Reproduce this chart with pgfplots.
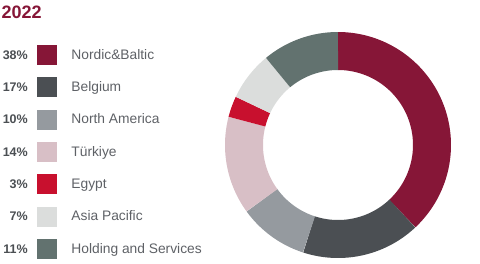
\documentclass[border=0pt]{standalone}
\usepackage{fontspec}
\setmainfont{Liberation Sans}
\usepackage{pgfplots}
\pgfplotsset{compat=1.18}
\definecolor{nordic}{HTML}{861637}
\definecolor{belgium}{HTML}{4B4F53}
\definecolor{northam}{HTML}{959A9F}
\definecolor{turkiye}{HTML}{D8BFC6}
\definecolor{egypt}{HTML}{C8102E}
\definecolor{asia}{HTML}{DBDDDC}
\definecolor{holding}{HTML}{62726F}
\definecolor{pctgray}{HTML}{4B4F53}
\definecolor{labgray}{HTML}{5E6166}
% donut slice: colour, cumulative start %, cumulative end %
\newcommand{\slice}[3]{%
  \addplot[forget plot, draw=#1, line width=38pt, line cap=butt, line join=round,
    domain={90-3.6*#3}:{90-3.6*#2}, samples=90, smooth]
    ({338+94*cos(x)},{-145+94*sin(x)});}
\pgfplotsset{swatch/.style={legend image code/.code={%
  \fill[#1, draw=none] (0pt,-10pt) rectangle (20pt,10pt);
  \path[draw=none, fill=none] (0pt,0pt) -- (34.7pt,0pt);}}}
\begin{document}
\begin{tikzpicture}
\begin{axis}[x=1pt, y=1pt, xmin=0, xmax=480, ymin=-263, ymax=0,
  hide axis, clip=false,
  legend style={draw=none, fill=none, inner sep=0pt, outer sep=0pt,
    at={(axis cs:36.7,-45)}, anchor=north west, row sep=12.3pt,
    nodes={inner sep=0pt, text=labgray, font=\fontsize{13.8}{15}\selectfont}},
  legend cell align=left]
\path (axis cs:0,0) rectangle (axis cs:480,-263);
% shares: 38 17 10 14 3 7 11
\slice{nordic}{0}{38}
\slice{belgium}{38}{55}
\slice{northam}{55}{65}
\slice{turkiye}{65}{79}
\slice{egypt}{79}{82}
\slice{asia}{82}{89}
\slice{holding}{89}{100}
\addlegendimage{swatch=nordic}
\addlegendentry{Nordic\&Baltic}
\addlegendimage{swatch=belgium}
\addlegendentry{Belgium}
\addlegendimage{swatch=northam}
\addlegendentry{North America}
\addlegendimage{swatch=turkiye}
\addlegendentry{Türkiye}
\addlegendimage{swatch=egypt}
\addlegendentry{Egypt}
\addlegendimage{swatch=asia}
\addlegendentry{Asia Pacific}
\addlegendimage{swatch=holding}
\addlegendentry{Holding and Services}
\node[anchor=west, inner sep=0pt, text=nordic, font=\bfseries\fontsize{18}{20}\selectfont] at (axis cs:1.5,-12.5) {2022};
\begin{scope}[every node/.style={anchor=east, inner sep=0pt, text=pctgray, font=\bfseries\fontsize{12.5}{14}\selectfont}]
\node at (axis cs:28,-55) {38\%};
\node at (axis cs:28,-87.3) {17\%};
\node at (axis cs:28,-119.6) {10\%};
\node at (axis cs:28,-151.9) {14\%};
\node at (axis cs:28,-184.2) {3\%};
\node at (axis cs:28,-216.5) {7\%};
\node at (axis cs:28,-248.8) {11\%};
\end{scope}
\end{axis}
\end{tikzpicture}
\end{document}
